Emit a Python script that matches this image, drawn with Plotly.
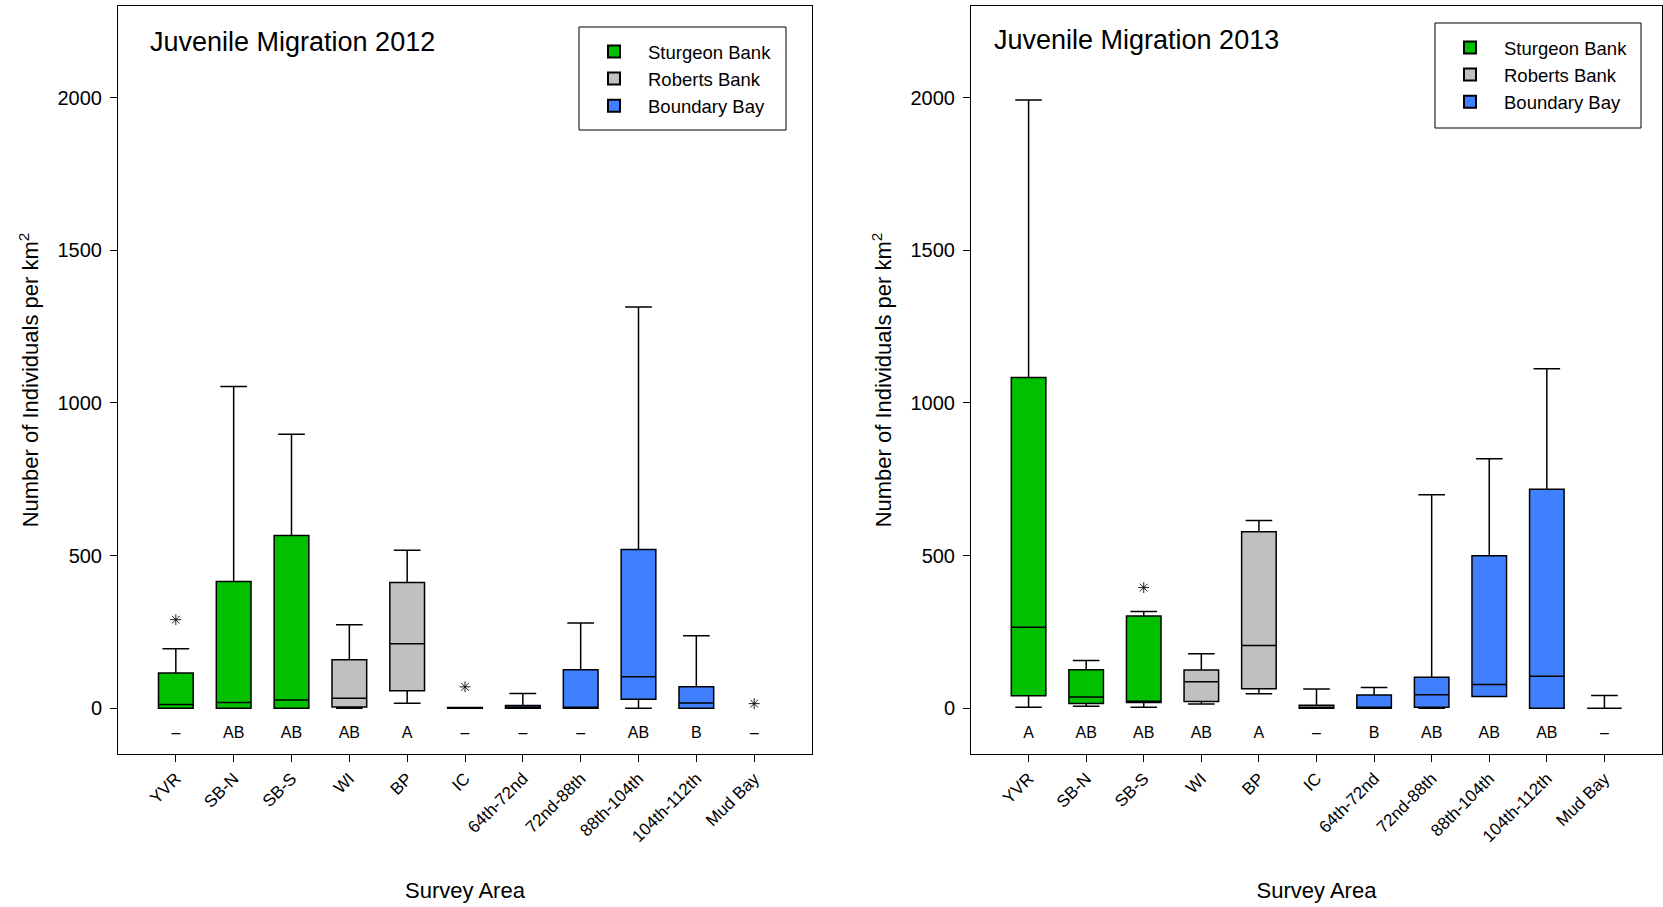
import plotly.graph_objects as go

categories = ["YVR", "SB-N", "SB-S", "WI", "BP", "IC", "64th-72nd", "72nd-88th",
              "88th-104th", "104th-112th", "Mud Bay"]

groups = {
    "Sturgeon Bank": ["YVR", "SB-N", "SB-S"],
    "Roberts Bank": ["WI", "BP", "IC"],
    "Boundary Bay": ["64th-72nd", "72nd-88th", "88th-104th", "104th-112th", "Mud Bay"],
}
colors = {"Sturgeon Bank": "#00C000", "Roberts Bank": "#C0C0C0", "Boundary Bay": "#4080FF"}

# 2012 box statistics (None = no box drawn)
q1_2012 = [0, 0, 0, 4, 57, 0, 0, 0, 29, 0, None]
med_2012 = [12, 19, 27, 33, 211, 0, 2, 3, 103, 17, None]
q3_2012 = [115, 415, 566, 159, 412, 2, 9, 126, 520, 70, None]
lo_2012 = [0, 0, 0, 0, 16, 0, 0, 0, 0, 0, None]
hi_2012 = [195, 1054, 897, 273, 517, 2, 48, 279, 1314, 237, None]
out_x_2012 = ["YVR", "IC", "Mud Bay"]
out_y_2012 = [290, 70, 15]
letters_2012 = ["–", "AB", "AB", "AB", "A", "–", "–", "–", "AB", "B", "–"]

# 2013 box statistics
q1_2013 = [41, 15, 19, 22, 64, 0, 0, 3, 38, 0, 0]
med_2013 = [265, 37, 23, 87, 205, 2, 3, 44, 78, 105, 0]
q3_2013 = [1083, 126, 302, 125, 578, 10, 43, 101, 499, 717, 0]
lo_2013 = [3, 6, 3, 14, 47, 0, 0, 0, 38, 0, 0]
hi_2013 = [1992, 156, 317, 178, 615, 63, 68, 699, 817, 1112, 42]
out_x_2013 = ["SB-S"]
out_y_2013 = [395]
letters_2013 = ["A", "AB", "AB", "AB", "A", "–", "B", "AB", "AB", "AB", "–"]

yticks = [0, 500, 1000, 1500, 2000]
titles = ["Juvenile Migration 2012", "Juvenile Migration 2013"]

FONT = "Arial, 'Liberation Sans', sans-serif"
W, H = 1663, 907
ML, MR, MT, MB = 0, 0, 6, 153
PH = H - MT - MB

fig = go.Figure()

datasets = [
    (q1_2012, med_2012, q3_2012, lo_2012, hi_2012, out_x_2012, out_y_2012, letters_2012),
    (q1_2013, med_2013, q3_2013, lo_2013, hi_2013, out_x_2013, out_y_2013, letters_2013),
]

for p, (q1, med, q3, lo, hi, ox, oy, letters) in enumerate(datasets):
    xa = "x" if p == 0 else "x2"
    ya = "y" if p == 0 else "y2"
    leg = "legend" if p == 0 else "legend2"
    for gname, gcats in groups.items():
        xs, a, b, c, d, e = [], [], [], [], [], []
        for cat in gcats:
            i = categories.index(cat)
            if q1[i] is None:
                continue
            xs.append(cat)
            a.append(q1[i]); b.append(med[i]); c.append(q3[i]); d.append(lo[i]); e.append(hi[i])
        fig.add_trace(go.Box(
            x=xs, q1=a, median=b, q3=c, lowerfence=d, upperfence=e,
            name=gname, fillcolor=colors[gname],
            line=dict(color="black", width=1.5),
            width=0.6, whiskerwidth=0.77, boxpoints=False,
            xaxis=xa, yaxis=ya, legend=leg, hoverinfo="skip",
        ))
    fig.add_trace(go.Scatter(
        x=ox, y=oy, mode="markers", showlegend=False,
        marker=dict(symbol="asterisk-open", size=9, color="black",
                    line=dict(color="black", width=0.9)),
        xaxis=xa, yaxis=ya, hoverinfo="skip",
    ))
    fig.add_trace(go.Scatter(
        x=categories, y=[-83] * len(categories), mode="text", text=letters,
        textfont=dict(family=FONT, size=16, color="black"), showlegend=False,
        xaxis=xa, yaxis=ya, hoverinfo="skip",
    ))

def xaxis_cfg(domain, anchor):
    return dict(domain=domain, anchor=anchor, type="category",
                categoryorder="array", categoryarray=categories,
                range=[-1, len(categories)], tickangle=-45,
                ticks="outside", ticklen=7, tickcolor="black", tickwidth=1,
                showline=True, linecolor="black", linewidth=1, mirror=True,
                showgrid=False, zeroline=False, automargin=False,
                tickfont=dict(family=FONT, size=17, color="black"),
                title=dict(text="Survey Area", standoff=37,
                           font=dict(family=FONT, size=22, color="black")))

def yaxis_cfg(anchor):
    return dict(domain=[0, 1], anchor=anchor, range=[-150, 2300],
                tickvals=yticks, ticks="outside", ticklen=7, tickcolor="black",
                tickwidth=1, showline=True, linecolor="black", linewidth=1,
                mirror=True, showgrid=False, zeroline=False, automargin=False,
                ticklabelstandoff=4,
                tickfont=dict(family=FONT, size=20, color="black"),
                title=dict(text="Number of Individuals per km<sup>2</sup>", standoff=12,
                           font=dict(family=FONT, size=22, color="black")))

left_dom = [118 / W, 812 / W]
right_dom = [971 / W, 1662 / W]

def px_x(x_px):
    return x_px / W

def py(y_px):
    return (H - MB - y_px) / PH

legend_common = dict(bgcolor="rgba(0,0,0,0)", borderwidth=0,
                     font=dict(family=FONT, size=18.5, color="black"),
                     xanchor="left", yanchor="top", tracegroupgap=0,
                     itemsizing="constant", itemwidth=58)

# legend frames (pixel boxes of the reference legends)
legend_frames = [(579, 27, 786, 130), (1435, 23, 1641, 128)]
shapes = [dict(type="rect", xref="paper", yref="paper",
               x0=px_x(x0), x1=px_x(x1), y0=py(y1), y1=py(y0),
               line=dict(color="black", width=1), fillcolor="white", layer="above")
          for (x0, y0, x1, y1) in legend_frames]
# keep frames below legend text: use layer "below" is hidden by plot bg; legends draw on top anyway
for s in shapes:
    s["layer"] = "above"

fig.update_layout(
    width=W, height=H, template="none",
    paper_bgcolor="white", plot_bgcolor="white",
    margin=dict(l=ML, r=MR, t=MT, b=MB),
    boxmode="overlay",
    xaxis=xaxis_cfg(left_dom, "y"), yaxis=yaxis_cfg("x"),
    xaxis2=xaxis_cfg(right_dom, "y2"), yaxis2=yaxis_cfg("x2"),
    legend=dict(x=px_x(580), y=py(33), **legend_common),
    legend2=dict(x=px_x(1436), y=py(29), **legend_common),
    shapes=shapes,
    annotations=[
        dict(text=titles[0], x=px_x(148), y=py(42), xref="paper", yref="paper",
             xanchor="left", yanchor="middle", showarrow=False,
             font=dict(family=FONT, size=27, color="black")),
        dict(text=titles[1], x=px_x(992), y=py(40), xref="paper", yref="paper",
             xanchor="left", yanchor="middle", showarrow=False,
             font=dict(family=FONT, size=27, color="black")),
    ],
)

fig.write_html("out.html", config={"displayModeBar": False},
               post_script="document.body.style.margin='0';")
